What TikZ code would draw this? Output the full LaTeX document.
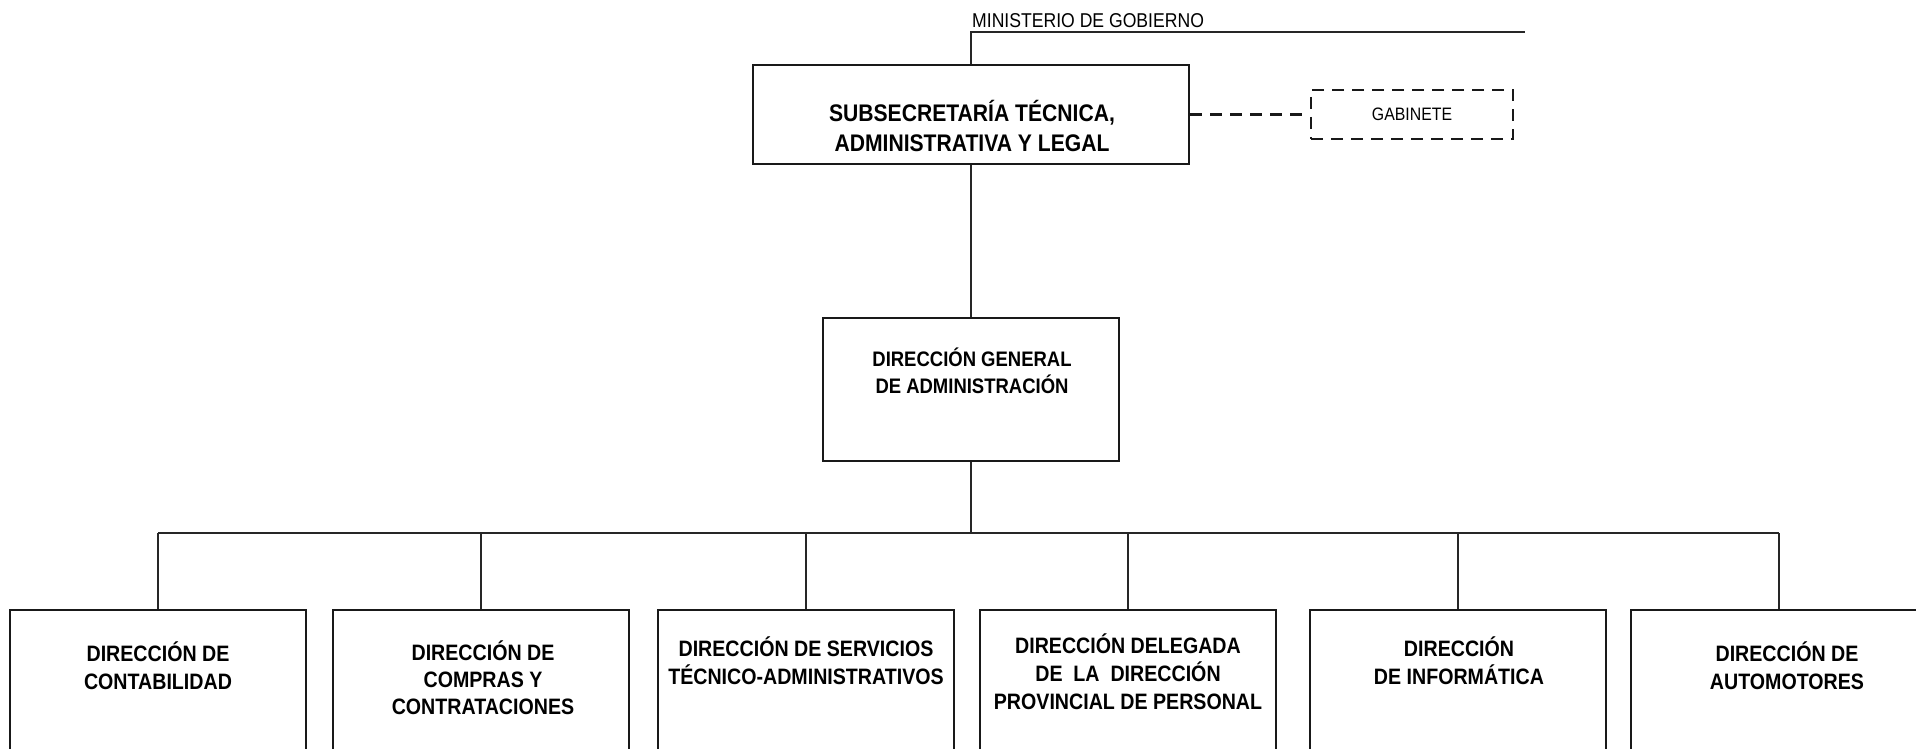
\documentclass[tikz,border=0pt]{standalone}
\usepackage{fontspec}
\setmainfont{Liberation Sans}[FakeStretch=0.88]
\begin{document}
\begin{tikzpicture}[x=1pt,y=-1pt,
  box/.style={draw=black!90, line width=2.7pt, inner sep=0pt},
  lowbox/.style={box, minimum width=296pt, minimum height=190pt},
  conn/.style={draw=black!85, line width=1.2pt},
  dashconn/.style={draw=black!90, line width=2.7pt, dash pattern=on 12pt off 8pt},
  lowtxt/.style={align=center, inner sep=0pt, font=\bfseries\fontsize{22.3}{28}\selectfont},
]
\useasboundingbox (0,0) rectangle (1916,749);
% top level
\node[box, minimum width=436pt, minimum height=99pt] (sub) at (971,114.5) {};
\node[align=center, inner sep=0pt, font=\bfseries\fontsize{24}{30}\selectfont] (subt) at (972,126) {SUBSECRETARÍA TÉCNICA,\\ADMINISTRATIVA Y LEGAL};
\node[box, dash pattern=on 12pt off 8pt, minimum width=202pt, minimum height=49pt] (gab) at (1412,114.5) {};
\node[inner sep=0pt, font=\fontsize{18}{22}\selectfont] (gabt) at (1412,114) {GABINETE};
\node[anchor=base west, inner sep=0pt, font=\fontsize{20}{24}\selectfont] (min) at (972,28) {MINISTERIO DE GOBIERNO};
\coordinate (mtop) at (971,32);
\coordinate (mend) at (1525,32);
% second level
\node[box, minimum width=296pt, minimum height=143pt] (dg) at (971,389.5) {};
\node[align=center, inner sep=0pt, font=\bfseries\fontsize{21}{27}\selectfont] (dgt) at (972,370.5) {DIRECCIÓN GENERAL\\DE ADMINISTRACIÓN};
% third level
\coordinate (bus) at (971,533);
\node[lowbox] (b1) at (158,705) {};
\node[lowbox] (b2) at (481,705) {};
\node[lowbox] (b3) at (806,705) {};
\node[lowbox] (b4) at (1128,705) {};
\node[lowbox] (b5) at (1458,705) {};
\node[lowbox] (b6) at (1779,705) {};
\node[lowtxt] (t1) at (158,666) {DIRECCIÓN DE\\CONTABILIDAD};
\node[lowtxt, font=\bfseries\fontsize{22.3}{27}\selectfont] (t2) at (483,678) {DIRECCIÓN DE\\COMPRAS Y\\CONTRATACIONES};
\node[lowtxt] (t3) at (806,661) {DIRECCIÓN DE SERVICIOS\\TÉCNICO-ADMINISTRATIVOS};
\node[lowtxt] (t4) at (1128,672) {DIRECCIÓN DELEGADA\\DE\ \ LA\ \ DIRECCIÓN\\PROVINCIAL DE PERSONAL};
\node[lowtxt] (t5) at (1459,661) {DIRECCIÓN\\DE INFORMÁTICA};
\node[lowtxt] (t6) at (1787,666) {DIRECCIÓN DE\\AUTOMOTORES};
% connectors
\draw[conn] (sub.north) -- (sub.north |- mtop) -- (mend);
\draw[dashconn] (sub.east) -- (gab.west);
\draw[conn] (sub.south) -- (dg.north);
\draw[conn] (dg.south) -- (bus);
\draw[conn] (b1.north |- bus) -- (b6.north |- bus);
\foreach \b in {b1,b2,b3,b4,b5,b6} {
  \draw[conn] (\b.north |- bus) -- (\b.north);
}
\end{tikzpicture}
\end{document}
